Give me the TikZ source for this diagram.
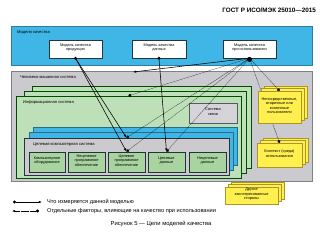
\documentclass[tikz,border=0pt]{standalone}
\usepackage{fontspec}
\setmainfont{Liberation Sans}
\usepackage{tikz}
\usetikzlibrary{arrows.meta, positioning, fit, shadows}

\definecolor{bandblue}{RGB}{64,182,230}
\definecolor{bandgray}{RGB}{203,203,207}
\definecolor{infogreen}{RGB}{190,224,184}
\definecolor{boxgreen}{RGB}{168,212,160}
\definecolor{darkline}{RGB}{40,50,60}
\definecolor{ylfill}{RGB}{255,240,80}
\definecolor{yldraw}{RGB}{170,150,40}

\begin{document}
\begin{tikzpicture}[
  x=0.5mm, y=-0.5mm,
  every node/.style={font=\fontsize{5.5}{6}\selectfont},
  band/.style={inner sep=0pt, line width=0.5pt},
  lbl/.style={anchor=west, inner sep=0pt, font=\fontsize{5.8}{6.5}\selectfont},
  qbox/.style={draw=darkline, fill=white, line width=0.6pt, inner sep=0pt, align=center},
  layer/.style={inner sep=0pt, line width=0.6pt},
  part/.style={draw=darkline, fill=boxgreen, line width=0.6pt, inner sep=0pt, align=center},
  target/.style={part, line width=1.2pt},
  ystack/.style={draw=yldraw, fill=ylfill, line width=0.5pt, inner sep=0pt, align=center,
    copy shadow={shadow xshift=3mm, shadow yshift=2.5mm, fill=ylfill, draw=yldraw},
    copy shadow={shadow xshift=1.5mm, shadow yshift=1.25mm, fill=ylfill, draw=yldraw}},
  measure/.style={line width=0.8pt, -{Latex[length=1.6mm, width=1.2mm]}},
  factor/.style={densely dotted, line width=0.6pt, -{Circle[length=1.5mm]}},
  lgtext/.style={anchor=west, inner sep=0pt, font=\fontsize{8}{9}\selectfont}
]
\useasboundingbox (0,0) rectangle (320,231);

\node[anchor=east, inner sep=0pt, font=\fontsize{9}{10}\bfseries] (hdr) at (316,10) {ГОСТ Р ИСО/МЭК 25010—2015};

% Quality models
\node[band, fill=bandblue, draw=bandblue!70!black, fit={(11,26) (312,65)}] (qm) {};
\node[lbl] (qmlbl) at (17,33) {Модели качества};
\node[qbox, fit={(49,40) (102,58)}] (product) {Модель качества\\продукции};
\node[qbox, fit={(132,40) (186,58)}] (data) {Модель качества\\данных};
\node[qbox, fit={(223,40) (276,58)}] (usage) {Модель качества\\при использовании};

% Human-computer system
\node[band, fill=bandgray, draw=gray, fit={(11,71) (312,181)}] (hcs) {};
\node[lbl] (hcslbl) at (20,77) {Человеко-машинная система};
\coordinate (hcsin) at (133,72);

% Information system
\node[layer, fill=infogreen, draw=green!30!black, fit={(32,86) (251,168)}] (info3) {};
\node[layer, fill=infogreen, draw=green!30!black, fit={(24,91) (246,173)}] (info2) {};
\node[layer, fill=infogreen, draw=green!30!black, fit={(16,96) (241,178)}] (info) {};
\node[lbl] (infolbl) at (23,102) {Информационная система};
\node[qbox, fill=bandgray!80!white, draw=darkline!80, fit={(189,103) (237,123)}] (comm) {Система\\связи};

% Target computer system
\node[layer, fill=bandblue, draw=bandblue!60!black, fit={(33,127) (237,165)}] (tcs3) {};
\node[layer, fill=bandblue, draw=bandblue!60!black, fit={(29,132) (233,170)}] (tcs2) {};
\node[layer, fill=bandgray, draw=darkline, line width=0.9pt, fit={(24,138) (229,175)}] (tcs) {};
\node[lbl] (tcslbl) at (33,145) {Целевая компьютерная система};
\node[part, fit={(29,152) (65,172)}] (hw) {Компьютерное\\оборудование};
\node[part, fit={(68,152) (105,172)}] (osw) {Нецелевое\\программное\\обеспечение};
\node[target, fit={(108,152) (145,172)}] (tsw) {Целевое\\программное\\обеспечение};
\node[target, fit={(148,152) (185,172)}] (tdat) {Целевые\\данные};
\node[part, fit={(189,152) (226,172)}] (odat) {Нецелевые\\данные};

% Users, context, stakeholders
\node[ystack, fit={(257,143) (302,167)}] (context) {Контекст (среда)\\использования};
\node[ystack, fit={(225,187) (278,204)}] (others) {Другие\\заинтересованные\\стороны};
\draw[factor] (usage.south) -- (context.north);
\node[ystack, fit={(258,91) (301,123)}] (users) {Непосредственные,\\вторичные или\\косвенные\\пользователи};

% What is measured
\draw[measure] (product.south) -- (tsw.north |- tcs.north);
\draw[measure] (product.south) -- (tsw.north);
\draw[measure] (data.south) -- (tdat.north);
\draw[measure] (usage.south) -- (hcsin);

% Factors of quality in use
\draw[factor] (usage.south) -- (info.north);
\draw[factor] (usage.south) -- (tsw.north |- tcs.north);
\draw[factor] (usage.south) -- (tsw.north);
\draw[factor] (usage.south) -- (tdat.north);
\draw[factor] (usage.south) -- (users.north);

\fill (product.south) circle[radius=0.8mm];
\fill (data.south) circle[radius=0.8mm];
\fill ([yshift=-0.6mm]usage.south) circle[radius=1.25mm];

% Legend
\coordinate (lg1a) at (13,202);
\coordinate (lg1b) at (42,202);
\node[lgtext] (lg1) at (47,202) {Что измеряется данной моделью};
\draw[measure, {Circle[length=1.5mm]}-{Latex[length=1.6mm, width=1.2mm]}] (lg1a) -- (lg1b);
\coordinate (lg2a) at (12,211);
\coordinate (lg2b) at (39,211);
\node[lgtext] (lg2) at (47,211) {Отдельные факторы, влияющие на качество при использовании};
\draw[factor, {Latex[length=1.6mm, width=1.2mm]}-{Circle[length=1.5mm]}] (lg2a) -- (lg2b);

\node[inner sep=0pt, font=\fontsize{8.3}{9}\selectfont] (capt) at (161,224) {Рисунок 5 — Цели моделей качества};
\end{tikzpicture}
\end{document}
